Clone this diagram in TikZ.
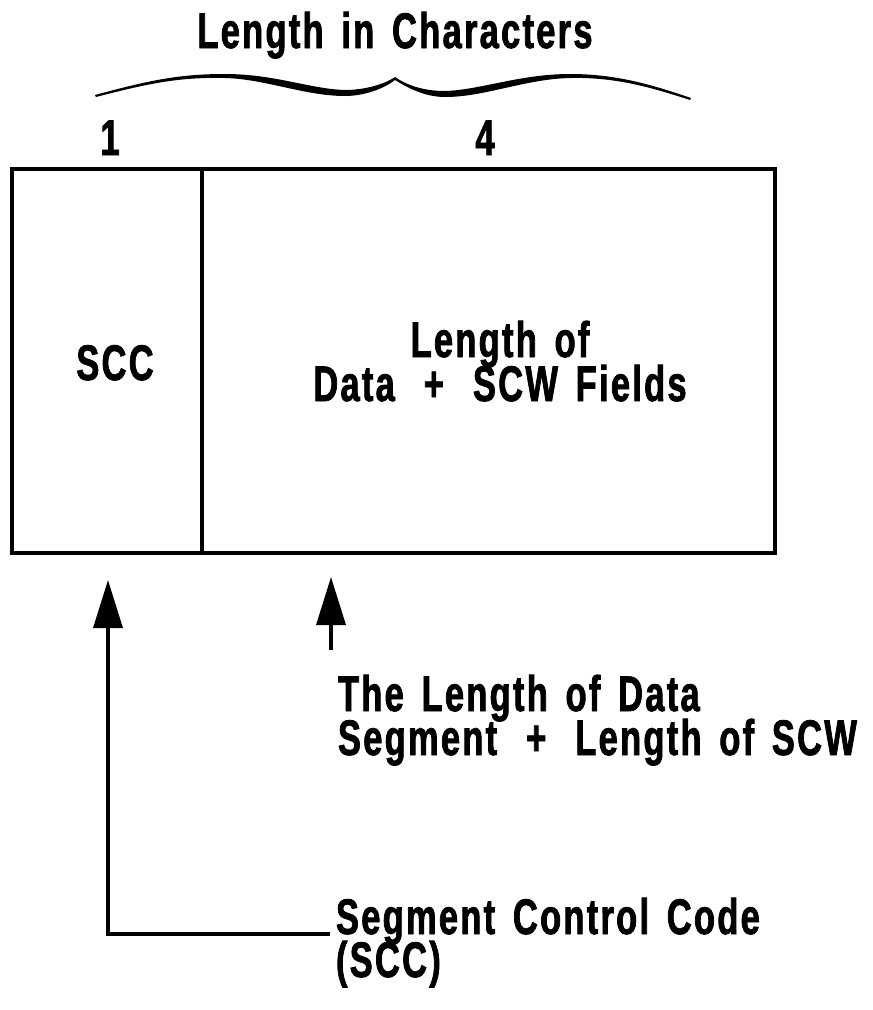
\documentclass[tikz,border=0pt]{standalone}
\usepackage{fontspec}
\newfontfamily\cf{Liberation Sans}[FakeStretch=0.69,LetterSpace=4.5,WordSpace=1.5,FakeBold=1.5]
\usetikzlibrary{arrows.meta}
\newcommand{\pgap}{\hspace{29pt}}
\begin{document}
\begin{tikzpicture}[x=1pt,y=-1pt,
  lbl/.style={font=\cf\bfseries\fontsize{50}{42}\selectfont, inner sep=0pt, outer sep=0pt, text height=36pt, text depth=0pt},
  fld/.style={draw, line width=4pt, inner sep=0pt, minimum height=384pt},
  arr/.style={line width=3.5pt, -{Triangle[length=48pt,width=29pt]}}]
\useasboundingbox (0,0) rectangle (873,1010);
% title
\node[lbl, anchor=base] (title) at (395,48) {Length in Characters};
% brace
\fill (95,95) .. controls (150,80) and (180,74) .. (225,74)
  .. controls (275,74) and (310,89) .. (345,90)
  .. controls (365,90) and (385,84) .. (395,77)
  .. controls (408,86) and (425,91) .. (445,91)
  .. controls (480,90) and (520,74) .. (570,74)
  .. controls (615,74) and (650,84) .. (691,98)
  -- (690,100) .. controls (650,87) and (615,77) .. (570,78)
  .. controls (525,79) and (485,97) .. (445,97)
  .. controls (425,97) and (408,88) .. (395,80)
  .. controls (385,88) and (365,96) .. (345,96)
  .. controls (305,96) and (265,79) .. (225,78)
  .. controls (180,77) and (150,83) .. (96,97) -- cycle;
% counts
\node[lbl, anchor=base] (one) at (110,155) {1};
\node[lbl, anchor=base] (four) at (485,155) {4};
% boxes
\node[fld, minimum width=190pt] (sccbox) at (107,361) {};
\node[fld, minimum width=573pt] (lenbox) at (488.5,361) {};
\node[lbl, anchor=base] (scc) at (115,380) {SCC};
\node[lbl, anchor=base] (lenof1) at (500,357) {Length of};
\node[lbl, anchor=base] (lenof2) at (500,401) {Data\pgap+\pgap SCW Fields};
% lower labels
\node[lbl, anchor=base west] (dl1) at (338,711) {The Length of Data};
\node[lbl, anchor=base west] (dl2) at (338,755) {Segment\pgap+\pgap Length of SCW};
\node[lbl, anchor=base west] (seg1) at (336,934) {Segment Control Code};
\node[lbl, anchor=base west] (seg2) at (336,977) {(SCC)};
% arrows
\coordinate (tipA) at (108,580);
\coordinate (tipB) at (331,577);
\coordinate (tailB) at (331,650);
\draw[arr] (tailB) -- (tipB);
\draw[arr] ([xshift=-6pt]seg1.base west) -| (tipA);
\end{tikzpicture}
\end{document}
